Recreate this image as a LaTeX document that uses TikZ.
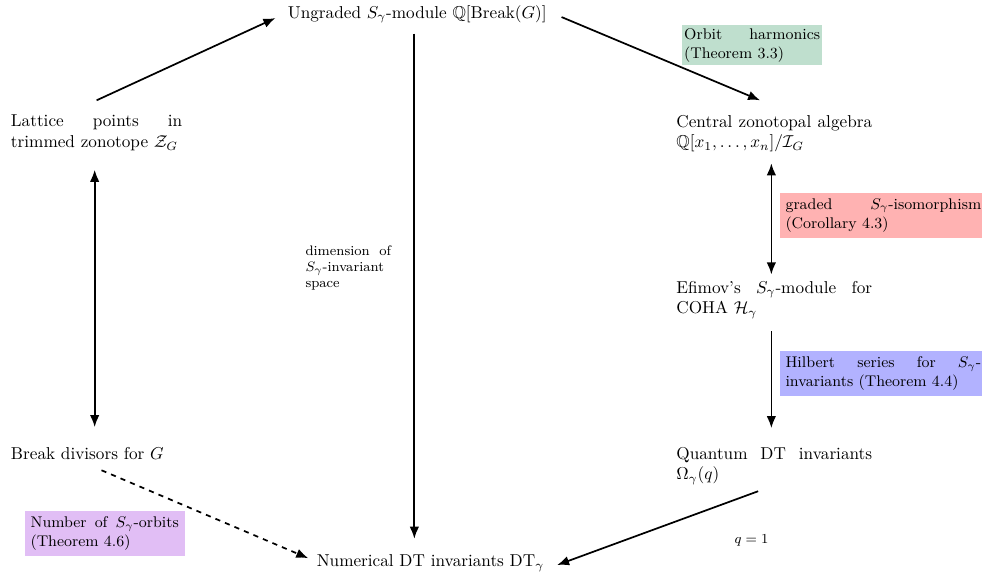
\documentclass[tikz,border=0pt]{standalone}
\usepackage{amsmath}
\usepackage{amssymb}
\usepackage{xcolor}
\usepackage{tikz}
\usetikzlibrary{arrows.meta,calc,positioning}

\definecolor{orbitgreen}{RGB}{191,223,206}
\definecolor{orbitlilac}{RGB}{225,190,245}

\begin{document}
\begin{tikzpicture}[>={Latex[length=7pt,width=5.5pt]}, line width=1pt,
		main node/.style={anchor=north west, text width=3.5cm, align=justify},
		wide node/.style={anchor=north west, text width=4cm, align=justify},
		line node/.style={anchor=base west},
		note node/.style={anchor=north west, font=\small, text width=4cm, align=justify},
		side node/.style={font=\footnotesize}]

	\useasboundingbox (0,0) rectangle (20.07,11.85);

	% the six objects
	\node[line node] (ung) at (5.75,11.48) {Ungraded $S_\gamma$-module $\mathbb{Q}[\mathrm{Break}(G)]$};
	\node[main node] (lat) at (0.09,9.63) {Lattice points in trimmed zonotope $\mathcal{Z}_G$};
	\node[main node] (brk) at (0.09,2.85) {Break divisors for $G$};
	\node[wide node] (cen) at (13.69,9.63) {Central zonotopal algebra $\mathbb{Q}[x_1,\ldots,x_n]/\mathcal{I}_G$};
	\node[wide node] (efi) at (13.69,6.24) {Efimov's $S_\gamma$-module for COHA $\mathcal{H}_\gamma$};
	\node[wide node] (qdt) at (13.69,2.85) {Quantum DT invariants $\Omega_\gamma(q)$};
	\node[line node] (num) at (6.34,0.27) {Numerical DT invariants $\mathrm{DT}_\gamma$};

	% coloured remarks
	\node[note node, fill=orbitgreen, inner xsep=1pt, inner ysep=2pt, text width=2.78cm] (orb) at (13.93,11.36) {Orbit harmonics (Theorem 3.3)};
	\node[note node, fill=red!30] (iso) at (15.92,7.93) {graded $S_\gamma$-isomorphism (Corollary 4.3)};
	\node[note node, fill=blue!30] (hil) at (15.92,4.70) {Hilbert series for $S_\gamma$-invariants (Theorem 4.4)};
	\node[note node, fill=orbitlilac, text width=3.03cm] (cnt) at (0.49,1.43) {Number of $S_\gamma$-orbits (Theorem 4.6)};
	\node[side node, anchor=north west, text width=1.75cm, align=justify] (dim) at (6.11,6.97) {dimension of $S_\gamma$-invariant space};
	\node[side node] (qone) at (15.36,0.80) {$q=1$};

	\draw[->] ([yshift=0.17cm]lat.north) -- ([xshift=-0.12cm,yshift=-0.08cm]ung.west);
	\draw[->] ([xshift=0.17cm,yshift=-0.06cm]ung.east) -- ([xshift=-0.29cm,yshift=0.17cm]cen.north);
	\draw[<->] ([xshift=-0.04cm,yshift=-0.25cm]lat.south) -- ([xshift=-0.04cm,yshift=0.27cm]brk.north);
	\draw[->] ([xshift=-0.06cm,yshift=-0.08cm]ung.south) -- ([xshift=-0.06cm,yshift=0.19cm]ung.south |- num.north);
	\draw[<->] ([xshift=-0.06cm,yshift=-0.09cm]cen.south) -- ([xshift=-0.06cm]efi.north);
	\draw[->] ([xshift=-0.06cm,yshift=-0.12cm]efi.south) -- ([xshift=-0.06cm,yshift=0.25cm]qdt.north);
	\draw[->] ([xshift=-0.33cm]qdt.south) -- ([xshift=0.13cm,yshift=-0.04cm]num.east);
	\draw[->, dashed] ([xshift=0.1cm,yshift=-0.09cm]brk.south) -- ([xshift=-0.04cm,yshift=0.1cm]num.west);
\end{tikzpicture}
\end{document}
